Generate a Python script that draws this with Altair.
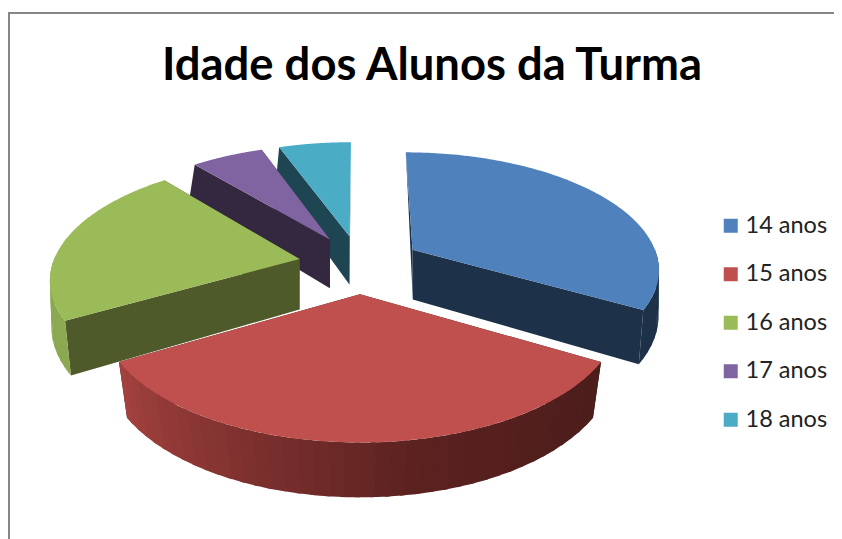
import math
import altair as alt

series = ["14 anos", "15 anos", "16 anos", "17 anos", "18 anos"]
values = [6, 6, 4, 1, 1]
top_colors = ["#4F81BD", "#C0504D", "#9BBB59", "#8064A2", "#4BACC6"]
cut_colors = ["#1D3149", "#4D1E1C", "#4F5A2A", "#33283F", "#1E4652"]
title_text = "Idade dos Alunos da Turma"

# view geometry of the tilted, exploded pie
CX, CY, A, B, K = 360.0, 264.0, 247.0, 116.0, 0.15
CY2, B2, K2 = 315.0, 126.0, 0.109
EXPLODE = 0.25
OX, OY = -8.0, -8.0  # page margin


def proj(u, v, low=False):
    if low:
        w = 1 - K2 * v
        return [CX + A * u / w + OX, CY2 + B2 * v / w + OY]
    w = 1 - K * v
    return [CX + A * u / w + OX, CY + B * v / w + OY]


def lerp_color(c1, c2, t):
    a = [int(c1[i:i + 2], 16) for i in (1, 3, 5)]
    b = [int(c2[i:i + 2], 16) for i in (1, 3, 5)]
    return "#%02X%02X%02X" % tuple(round(x + (y - x) * t) for x, y in zip(a, b))


def poly(pts, key):
    ring = pts + [pts[0]]
    return {"type": "Feature", "properties": {"key": key},
            "geometry": {"type": "Polygon", "coordinates": [ring]}}


total = sum(values)
slices = []
acc = 0.0
for s, val, tc, cc in zip(series, values, top_colors, cut_colors):
    a0 = acc / total * 360
    acc += val
    a1 = acc / total * 360
    slices.append((s, a0, a1, tc, cc))


def rim_color(s, ang, cc, tc):
    if s == "15 anos":
        t = (240 - ang) / 120
        if t < 0.6:
            return lerp_color("#A4423F", "#5A211F", t / 0.6)
        return lerp_color("#5A211F", "#4B1D1B", (t - 0.6) / 0.4)
    if s == "16 anos":
        return "#8CA951"
    return cc


features = []
for idx in [4, 3, 2, 0, 1]:
    s, a0, a1, tc, cc = slices[idx]
    mid = math.radians((a0 + a1) / 2)
    ou, ov = EXPLODE * math.sin(mid), -EXPLODE * math.cos(mid)

    def pt(deg, low=False):
        r = math.radians(deg)
        return proj(ou + math.sin(r), ov - math.cos(r), low)

    apex_t, apex_b = proj(ou, ov), proj(ou, ov, True)
    features.append(poly([apex_t, pt(a0), pt(a0, True), apex_b], cc))
    features.append(poly([apex_t, pt(a1), pt(a1, True), apex_b], cc))
    step = 3.0
    n = max(2, int((a1 - a0) / step))
    for i in range(n):
        d0 = a0 + (a1 - a0) * i / n
        d1 = a0 + (a1 - a0) * (i + 1) / n
        dm = (d0 + d1) / 2
        if 90 <= dm <= 270:
            # each strip runs a little under its neighbour, so no seams show
            d_end = min(a1, d1 + 1.0)
            pts = [pt(d0 + (d_end - d0) * j / 3) for j in range(4)]
            low = [pt(d_end - (d_end - d0) * j / 3, True) for j in range(4)]
            features.append(poly(pts + low, rim_color(s, dm, cc, tc)))
    arc = [pt(a0 + (a1 - a0) * i / 120) for i in range(121)]
    features.append(poly([apex_t] + arc, s))

keys, rng = list(series), list(top_colors)
for f in features:
    k = f["properties"]["key"]
    if k not in keys:
        keys.append(k)
        rng.append(k)

scale = alt.Scale(domain=keys, range=rng)

pie = alt.Chart(alt.Data(values=features)).mark_geoshape(strokeWidth=0).encode(
    fill=alt.Color(
        "properties.key:N", scale=scale, sort=None, title=None,
        legend=alt.Legend(
            values=series, orient="none", legendX=711, legendY=206,
            symbolType="square", symbolSize=196, symbolStrokeWidth=0,
            labelFont="Lato", labelFontSize=23.5, labelColor="#222222",
            labelLimit=200, labelOffset=3, rowPadding=23.5, padding=0,
        ),
    ),
).project(type="identity", scale=1, translate=[0, 0])

frame_top = alt.Chart(alt.Data(values=[{"f": 0}])).mark_rule(color="#868686", strokeWidth=2).encode(
    x=alt.value(0), x2=alt.value(826), y=alt.value(5))
frame_left = alt.Chart(alt.Data(values=[{"f": 0}])).mark_rule(color="#868686", strokeWidth=2).encode(
    x=alt.value(1), y=alt.value(5), y2=alt.value(531))

chart = alt.layer(frame_top, frame_left, pie).properties(
    width=826, height=531, padding=0, background="white",
    autosize=alt.AutoSizeParams(type="none"),
    title=alt.TitleParams(
        title_text, font="Lato", fontSize=45.4, fontWeight="bold", color="#000000",
        anchor="start", frame="group", dx=154, dy=81, offset=0,
    ),
).configure_view(stroke=None)

chart.save("out.html", embed_options={"renderer": "svg", "actions": False})
